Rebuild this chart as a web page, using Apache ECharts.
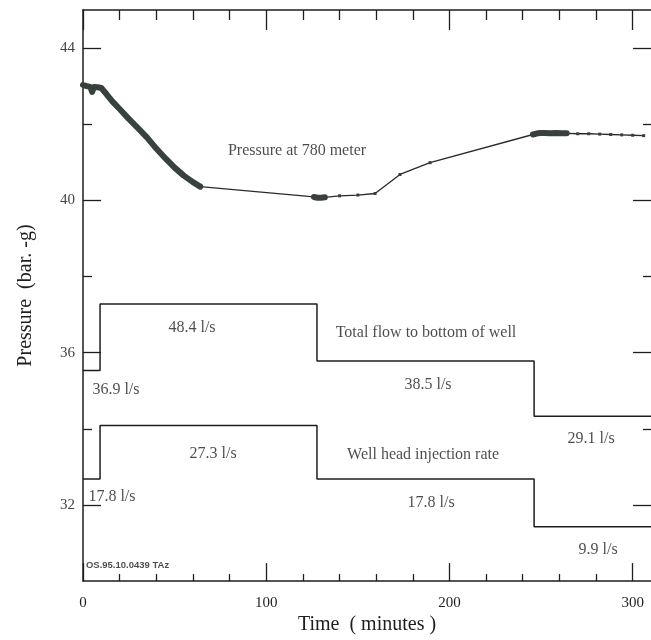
<!DOCTYPE html>
<html><head><meta charset="utf-8">
<script src="https://cdn.jsdelivr.net/npm/echarts@6/dist/echarts.min.js"></script>
<style>html,body{margin:0;padding:0;background:#fff}#c{width:651px;height:640px}</style>
</head><body><div id="c"></div>
<script>
// ---- data ----
const pressureTime = [0, 2, 4, 5, 6, 8, 10, 13, 16, 20, 25, 30, 35, 40, 45, 50, 55, 60, 64,
  126, 127, 128, 129, 130, 132, 140, 150, 159.4, 173, 189.4, 245.6,
  248, 250, 252, 255, 258, 261, 264, 270, 276, 282, 288, 294, 300, 306];
const pressureBar = [43.03, 43.0, 42.98, 42.85, 42.98, 42.97, 42.95, 42.78, 42.6, 42.4, 42.14, 41.9, 41.65, 41.36, 41.1, 40.86, 40.65, 40.48, 40.36,
  40.09, 40.08, 40.07, 40.07, 40.07, 40.08, 40.12, 40.14, 40.18, 40.68, 40.99, 41.73,
  41.76, 41.77, 41.77, 41.76, 41.77, 41.76, 41.76, 41.75, 41.75, 41.74, 41.73, 41.72, 41.71, 41.70];
const totalFlowTimes = [0, 9.3, 127.7, 246.2, 310];
const totalFlowLevel = [35.53, 37.28, 35.78, 34.33];
const wellHeadTimes = [0, 9.3, 127.7, 246.2, 310];
const wellHeadLevel = [32.68, 34.09, 32.68, 31.43];
const xLabelTicks = [0, 100, 200, 300];
const xMinorTicks = [20, 40, 60, 80, 120, 140, 160, 180, 220, 240, 260, 280];
const yLabelTicks = [32, 36, 40, 44];
const yMinorTicks = [34, 38, 42];
const annotations = [
  ['Pressure at 780 meter', 116.8, 41.30],
  ['48.4 l/s', 59.5, 36.65],
  ['36.9 l/s', 18.0, 35.03],
  ['27.3 l/s', 71.0, 33.34],
  ['17.8 l/s', 15.8, 32.22],
  ['Total flow to bottom of well', 187.2, 36.52],
  ['38.5 l/s', 188.3, 35.16],
  ['29.1 l/s', 277.3, 33.73],
  ['Well head injection rate', 185.6, 33.31],
  ['17.8 l/s', 190.0, 32.06],
  ['9.9 l/s', 281.1, 30.83]
];
const stampText = ['OS.95.10.0439 TAz', 1.6, 30.42];

// ---- helpers ----
const SERIF = 'Liberation Serif, Times New Roman, serif';
const INK = '#1e1e1e';
function steps(times, levels) {
  const pts = [];
  for (let i = 0; i < levels.length; i++) {
    pts.push([times[i], levels[i]]);
    pts.push([times[i + 1], levels[i]]);
  }
  return pts;
}
const pressurePts = pressureTime.map((t, i) => [t, pressureBar[i]]);
const denseRanges = [[0, 64], [125, 133], [245, 265]];
const denseSeries = denseRanges.map(r => pressurePts.filter(p => p[0] >= r[0] && p[0] <= r[1]));

function xAx(pos, ticks, len, showLine, showLabel) {
  return {
    type: 'value', position: pos, min: 0, max: 310,
    axisLine: { show: showLine, onZero: false, lineStyle: { color: INK, width: 1.5 } },
    axisTick: { show: true, inside: true, length: len, customValues: ticks, lineStyle: { color: INK, width: 1.3 } },
    axisLabel: { show: showLabel, customValues: showLabel ? xLabelTicks : ticks, margin: 14,
      color: INK, fontFamily: SERIF, fontSize: 15 },
    splitLine: { show: false }
  };
}
function yAx(pos, ticks, len, showLine, showLabel) {
  return {
    type: 'value', position: pos, min: 30, max: 45,
    axisLine: { show: showLine, onZero: false, lineStyle: { color: INK, width: 1.5 } },
    axisTick: { show: true, inside: true, length: len, customValues: ticks, lineStyle: { color: INK, width: 1.3 } },
    axisLabel: { show: showLabel, customValues: showLabel ? yLabelTicks : ticks, margin: 8,
      color: '#444', fontFamily: SERIF, fontSize: 15 },
    splitLine: { show: false }
  };
}

const xAxes = [
  Object.assign(xAx('bottom', xMinorTicks, 7, true, true), {
    name: 'Time  ( minutes )', nameLocation: 'middle', nameGap: 29,
    nameTextStyle: { color: INK, fontFamily: SERIF, fontSize: 20 }
  }),
  xAx('bottom', xLabelTicks, 18, false, false),
  xAx('top', xMinorTicks, 10, true, false),
  xAx('top', xLabelTicks, 20, false, false)
];
const yAxes = [
  Object.assign(yAx('left', yMinorTicks, 9, true, true), {
    name: 'Pressure  (bar. -g)', nameLocation: 'middle', nameGap: 47,
    nameTextStyle: { color: INK, fontFamily: SERIF, fontSize: 20 }
  }),
  yAx('left', yLabelTicks, 18, false, false),
  yAx('right', yMinorTicks, 8, false, false),
  yAx('right', yLabelTicks, 18, false, false)
];

const series = [
  { type: 'line', name: 'Total flow to bottom of well', data: steps(totalFlowTimes, totalFlowLevel),
    symbol: 'none', lineStyle: { color: INK, width: 1.5 }, animation: false },
  { type: 'line', name: 'Well head injection rate', data: steps(wellHeadTimes, wellHeadLevel),
    symbol: 'none', lineStyle: { color: INK, width: 1.5 }, animation: false },
  { type: 'line', name: 'Pressure at 780 meter', data: pressurePts,
    symbol: 'rect', symbolSize: 3, showAllSymbol: true,
    itemStyle: { color: '#3a3f3c' }, lineStyle: { color: '#2a2a2a', width: 1.3 }, animation: false }
];
denseSeries.forEach(d => series.push({
  type: 'line', data: d, symbol: 'none',
  lineStyle: { color: '#39433d', width: 6, cap: 'round', join: 'round' }, animation: false
}));
series.push({
  type: 'scatter', symbolSize: 0, animation: false, silent: true,
  data: annotations.map(a => ({ name: a[0], value: [a[1], a[2]] })),
  label: { show: true, position: 'inside', formatter: p => p.name,
    color: INK, fontFamily: SERIF, fontSize: 16 }
});
series.push({
  type: 'scatter', symbolSize: 0, animation: false, silent: true,
  data: [{ name: stampText[0], value: [stampText[1], stampText[2]] }],
  label: { show: true, position: 'right', distance: 0, formatter: p => p.name,
    color: INK, fontFamily: 'Liberation Sans, Arial, sans-serif', fontSize: 9.5, fontWeight: 'bold' }
});

const chart = echarts.init(document.getElementById('c'), null, { renderer: 'canvas' });
chart.setOption({
  backgroundColor: '#fff',
  animation: false,
  grid: { left: 83, top: 10, right: 0, bottom: 55, containLabel: false },
  xAxis: xAxes,
  yAxis: yAxes,
  series: series
});
</script></body></html>
